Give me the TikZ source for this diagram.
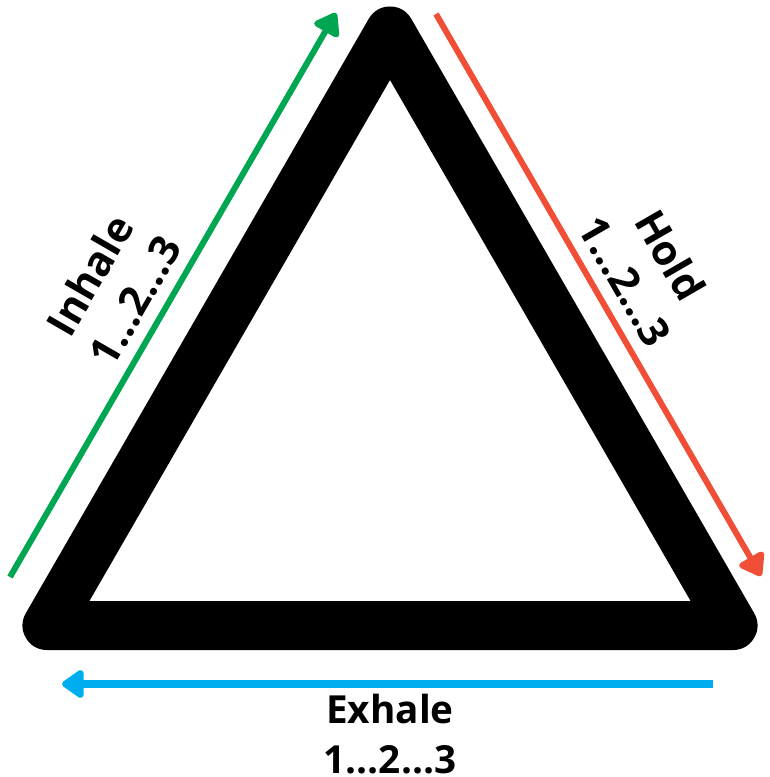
\documentclass[tikz,border=0pt]{standalone}
\usepackage{fontspec}
\setmainfont{Open Sans}
\usetikzlibrary{arrows.meta}
\definecolor{inhalegreen}{HTML}{00A651}
\definecolor{holdred}{HTML}{F04E37}
\definecolor{exhaleblue}{HTML}{00AEEF}

\begin{document}
\begin{tikzpicture}[x=0.75pt, y=-0.75pt,
        edge/.style={line width=36.75pt, line join=round},
        breath/.style={line width=4.5pt, -{Triangle[round, width=24pt, length=18pt]}},
        count/.style={font=\bfseries\fontsize{31}{39}\selectfont, align=center, inner sep=0pt}]
        \useasboundingbox (0,0) rectangle (769,777);

        \coordinate (top) at (390,31);
        \coordinate (left) at (47,625.5);
        \coordinate (right) at (733,625.5);
        \draw[edge] (top) -- (right) -- (left) -- cycle;

        \coordinate (in0) at (10,577);
        \coordinate (in1) at (336,13);
        \coordinate (hold0) at (436,14);
        \coordinate (hold1) at (761,576);
        \coordinate (ex0) at (713,684);
        \coordinate (ex1) at (62,684);

        \draw[breath, inhalegreen] (in0) -- (in1);
        \draw[breath, holdred] (hold0) -- (hold1);
        \draw[breath, exhaleblue, line width=5.5pt] (ex0) -- (ex1);

        \node[count, rotate=60] (inhale) at (112,288) {Inhale\\1…2…3};
        \node[count, rotate=-60] (hold) at (648,268) {Hold\\1…2…3};
        \node[count, font=\bfseries\fontsize{29}{37.5}\selectfont] (exhale) at (390,734) {Exhale\\1…2…3};
\end{tikzpicture}
\end{document}
